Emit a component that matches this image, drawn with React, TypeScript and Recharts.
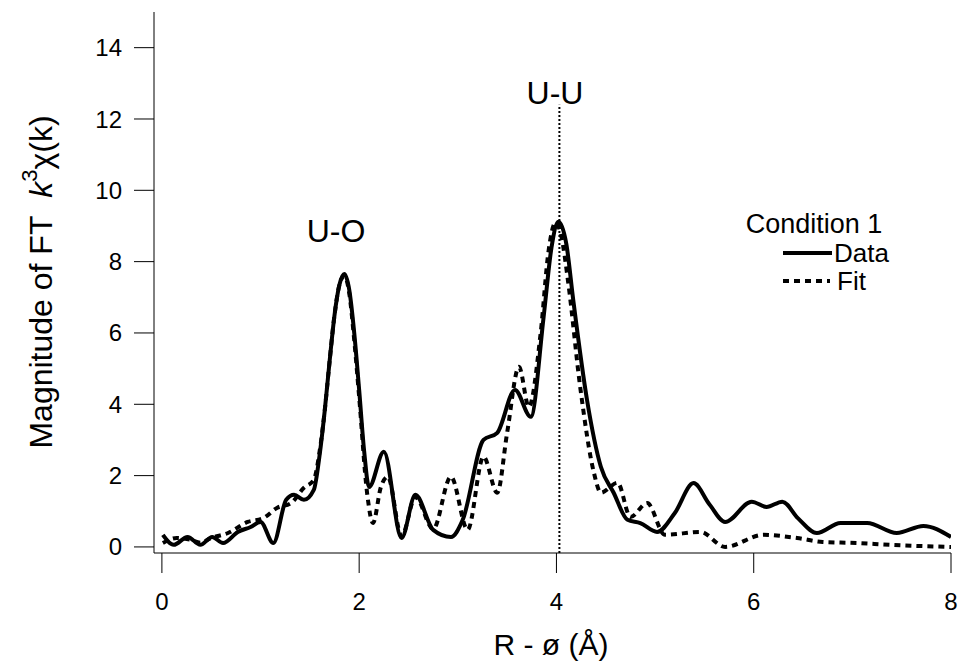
import React from "react";
import { LineChart, Line, XAxis, YAxis, ReferenceLine, Customized } from "recharts";

const dataX = [0.01, 0.12, 0.26, 0.39, 0.51, 0.62, 0.77, 0.9, 1.0, 1.13, 1.26, 1.34, 1.44, 1.54, 1.6, 1.65, 1.7, 1.75, 1.8, 1.85, 1.9, 1.95, 2.0, 2.05, 2.1, 2.25, 2.43, 2.57, 2.75, 2.93, 3.05, 3.26, 3.4, 3.58, 3.74, 3.87, 3.95, 4.02, 4.1, 4.17, 4.31, 4.45, 4.58, 4.72, 4.85, 5.02, 5.2, 5.39, 5.55, 5.71, 5.98, 6.13, 6.29, 6.45, 6.64, 6.88, 7.15, 7.45, 7.72, 8.0];
const dataY = [0.34, 0.06, 0.28, 0.06, 0.28, 0.11, 0.42, 0.56, 0.7, 0.11, 1.32, 1.46, 1.32, 1.6, 2.6, 3.8, 5.2, 6.5, 7.35, 7.65, 7.2, 6.0, 4.4, 2.7, 1.68, 2.67, 0.25, 1.46, 0.48, 0.28, 0.76, 3.0, 3.2, 4.4, 3.65, 6.45, 8.4, 9.12, 8.5, 6.93, 4.12, 2.25, 1.52, 0.76, 0.67, 0.42, 0.95, 1.79, 1.2, 0.7, 1.27, 1.12, 1.27, 0.8, 0.39, 0.67, 0.67, 0.39, 0.59, 0.28];

const fitX = [0.01, 0.15, 0.29, 0.39, 0.5, 0.67, 0.87, 1.03, 1.17, 1.31, 1.44, 1.54, 1.6, 1.65, 1.7, 1.75, 1.8, 1.85, 1.9, 1.95, 2.0, 2.08, 2.14, 2.22, 2.29, 2.43, 2.57, 2.75, 2.93, 3.1, 3.26, 3.4, 3.5, 3.62, 3.72, 3.84, 3.92, 3.99, 4.05, 4.12, 4.24, 4.38, 4.45, 4.62, 4.75, 4.92, 5.1, 5.46, 5.71, 6.1, 6.44, 6.7, 7.05, 7.38, 8.0];
const fitY = [0.11, 0.25, 0.2, 0.12, 0.25, 0.39, 0.7, 0.81, 1.1, 1.23, 1.66, 1.88, 2.7, 3.8, 5.2, 6.5, 7.35, 7.6, 7.1, 5.8, 4.2, 1.52, 0.67, 1.68, 1.97, 0.3, 1.4, 0.5, 1.97, 0.48, 2.53, 1.52, 3.2, 5.05, 3.93, 6.0, 8.3, 9.09, 8.7, 7.4, 4.5, 2.08, 1.52, 1.8, 0.84, 1.23, 0.34, 0.42, 0.0, 0.34, 0.25, 0.14, 0.11, 0.06, 0.0];

const xTicks = [0, 2, 4, 6, 8];
const yTicks = [0, 2, 4, 6, 8, 10, 12, 14];
const uuPosition = 4.03;

const dataSeries = dataX.map((x, i) => ({ x, y: dataY[i] }));
const fitSeries = fitX.map((x, i) => ({ x, y: fitY[i] }));

const FONT = "'Liberation Sans', Arial, Helvetica, sans-serif";

const Overlay = () => (
  <g fontFamily={FONT} fill="#000">
    <text x={336} y={242} fontSize={32} textAnchor="middle">U-O</text>
    <text x={555} y={104} fontSize={32} textAnchor="middle">U-U</text>
    <text x={814} y={233} fontSize={27} textAnchor="middle">Condition 1</text>
    <line x1={783} x2={832} y1={253} y2={253} stroke="#000" strokeWidth={4} />
    <text x={834} y={262} fontSize={26}>Data</text>
    <line x1={783} x2={830} y1={281} y2={281} stroke="#000" strokeWidth={4} strokeDasharray="6 5" />
    <text x={837} y={290} fontSize={26}>Fit</text>
    <text x={551} y={655} fontSize={30} textAnchor="middle">R - ø (Å)</text>
    <text transform="translate(52,282) rotate(-90)" fontSize={32} textAnchor="middle">
      Magnitude of FT{"\u00a0\u00a0"}
      <tspan fontStyle="italic">k</tspan>
      <tspan dy={-15} fontSize={22}>3</tspan>
      <tspan dy={15}>χ(k)</tspan>
    </text>
  </g>
);

export default function App() {
  return (
    <div style={{ position: "absolute", left: 0, top: 0, width: 959, height: 664, background: "#fff" }}>
      <LineChart width={959} height={664} margin={{ top: 12, right: 8, bottom: 81, left: 94 }}>
        <XAxis
          dataKey="x"
          type="number"
          domain={[-0.08, 8]}
          ticks={xTicks}
          allowDataOverflow
          tickSize={20}
          tickMargin={20}
          height={30}
          stroke="#000"
          tickLine={{ stroke: "#000" }}
          tick={{ fill: "#000", fontSize: 24, fontFamily: FONT }}
        />
        <YAxis
          dataKey="y"
          type="number"
          domain={[-0.17, 15]}
          ticks={yTicks}
          allowDataOverflow
          width={60}
          tickSize={20}
          tickMargin={12}
          stroke="#000"
          tickLine={{ stroke: "#000" }}
          tick={{ fill: "#000", fontSize: 24, fontFamily: FONT }}
        />
        <ReferenceLine
          segment={[{ x: uuPosition, y: -0.17 }, { x: uuPosition, y: 12.4 }]}
          stroke="#000"
          strokeWidth={2}
          strokeDasharray="2 2"
        />
        <Line
          data={fitSeries}
          dataKey="y"
          type="monotone"
          stroke="#000"
          strokeWidth={4}
          strokeDasharray="6 5"
          dot={false}
          isAnimationActive={false}
        />
        <Line
          data={dataSeries}
          dataKey="y"
          type="monotone"
          stroke="#000"
          strokeWidth={4}
          dot={false}
          isAnimationActive={false}
        />
        <Customized component={Overlay} />
      </LineChart>
    </div>
  );
}
